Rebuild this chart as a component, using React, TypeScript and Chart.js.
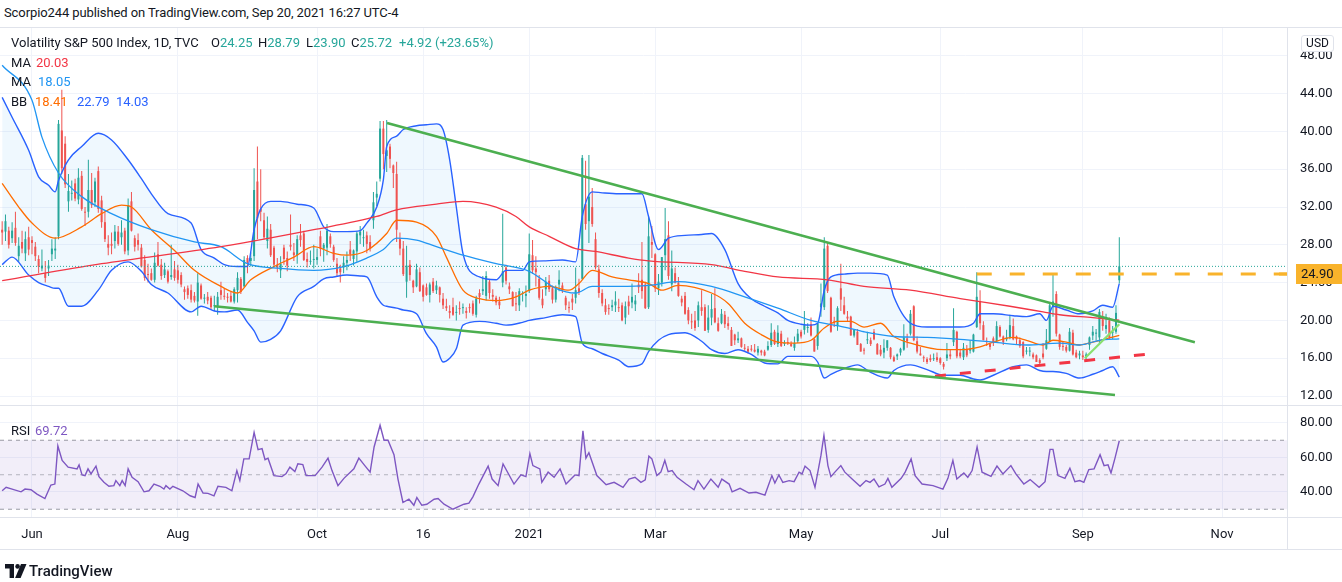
import React, { useEffect, useRef } from 'react';
import { Chart, registerables } from 'chart.js';

Chart.register(...registerables);

const FONT = "Roboto, 'Liberation Sans', sans-serif";

// ---------- daily candles (May 18 2020 .. Sep 20 2021), bar index = position ----------
const OPEN = [
  29.6,29.4,29.5,28.7,29.8,26.8,28.3,27.1,28.8,
  28.5,27.8,26.5,25.5,25.0,25.5,27.0,27.4,28.9,40.1,38.7,32.6,33.4,34.5,32.8,35.3,31.5,31.5,33.8,32.5,35.8,32.7,
  30.4,28.1,28.1,28.4,29.4,28.8,29.5,27.4,32.6,28.7,28.5,27.7,26.4,24.9,25.0,24.3,27.0,25.9,24.8,25.2,24.6,25.4,
  25.3,24.8,23.3,23.4,23.2,22.6,22.0,23.7,22.3,22.5,22.4,21.5,21.5,23.2,22.6,22.5,22.6,22.0,23.2,24.4,23.6,
  26.6,26.3,26.8,34.7,31.8,30.6,28.4,29.6,27.7,25.9,25.3,27.7,26.6,28.0,27.2,26.9,29.0,29.2,26.5,26.2,26.4,
  26.4,28.9,27.6,27.7,28.9,27.8,26.0,25.5,25.6,26.1,27.5,26.5,27.3,29.0,28.7,29.0,28.3,30.6,33.0,35.0,40.3,37.4,
  38.4,36.4,35.5,28.6,27.6,24.1,25.9,24.2,23.6,25.1,23.7,23.5,22.7,24.1,23.2,23.5,22.3,21.5,21.0,21.4,
  20.8,21.3,21.3,21.0,21.4,21.8,20.6,22.9,23.1,22.6,24.1,22.7,22.4,22.0,24.0,25.6,23.6,23.0,21.8,21.6,22.8,22.6,
  23.1,26.9,25.5,24.4,22.3,23.3,24.2,23.4,22.2,23.8,23.7,22.4,21.4,22.3,22.4,23.4,24.4,32.3,30.5,
  32.0,28.6,25.4,22.9,21.6,21.3,21.4,21.6,21.4,21.6,20.3,22.0,21.9,21.7,23.8,24.3,23.8,21.4,28.3,
  27.0,23.4,24.0,26.9,29.0,23.8,25.0,24.0,22.3,22.6,21.1,19.9,20.0,20.0,21.4,21.4,19.0,20.3,21.3,19.7,19.7,20.6,19.7,
  19.0,18.5,17.9,18.1,17.1,17.0,17.0,16.9,16.6,16.8,16.7,16.9,17.4,18.8,17.5,18.6,17.5,17.7,17.5,17.1,17.8,
  18.8,19.0,19.2,19.6,18.0,17.3,21.4,21.4,27.9,22.4,19.9,19.4,23.4,21.6,20.4,20.4,18.4,18.8,17.5,16.9,
  17.9,17.9,18.8,17.5,16.9,16.6,17.1,17.1,16.1,16.2,16.6,16.9,18.1,18.6,21.5,17.8,16.5,16.1,15.9,16.0,15.9,16.1,
  16.0,15.4,16.0,16.4,17.7,18.8,16.6,16.1,16.9,16.8,16.7,19.3,22.0,19.5,17.8,17.5,18.1,17.8,19.3,18.3,18.0,
  18.2,19.4,18.3,17.9,17.7,16.7,16.7,16.4,16.3,15.8,16.5,17.0,17.8,21.4,22.8,18.5,17.3,17.2,16.8,18.7,16.6,16.3,
  16.3,16.2,17.4,18.4,18.6,18.2,20.1,19.1,20.0,18.7,18.8,24.25,
];
const HIGH = [
  30.5,31.2,29.9,30.4,31.5,28.8,29.5,29.4,29.9,
  28.9,28.3,26.9,27.5,26.3,26.4,28.6,28.8,41.2,44.4,39.5,35.5,34.8,35.0,36.1,35.8,32.0,37.0,35.6,35.1,36.3,33.2,
  31.5,29.0,29.3,30.1,30.0,30.6,29.8,32.9,33.6,29.0,29.2,28.1,26.9,26.0,25.5,27.2,28.3,26.5,26.1,25.4,28.0,26.3,
  25.9,25.1,23.6,23.7,23.8,23.0,25.0,23.9,22.8,23.0,22.6,22.6,23.0,24.1,23.4,22.9,23.0,23.5,25.1,24.6,26.8,
  26.9,27.2,36.1,38.4,36.0,31.4,31.0,30.2,27.9,26.6,26.8,28.0,27.3,31.2,28.2,29.0,30.2,29.5,27.2,27.4,28.0,
  27.6,29.5,28.2,30.2,29.2,28.0,26.6,25.9,26.8,27.3,28.4,27.5,29.4,30.0,29.6,29.4,29.0,33.6,34.7,41.1,41.1,41.2,
  38.7,36.5,36.8,29.3,28.4,27.9,26.4,24.3,26.0,25.6,23.8,23.9,24.0,24.5,24.2,23.6,22.9,22.3,21.6,22.4,
  21.6,22.0,21.8,21.4,21.8,22.1,22.6,23.3,24.7,25.2,24.3,23.3,22.6,22.5,31.3,25.9,24.0,23.1,23.0,23.4,23.1,23.7,
  29.2,28.5,26.8,24.8,23.3,24.6,24.8,23.7,23.7,25.3,24.0,22.6,22.0,22.8,25.6,24.4,37.5,36.9,37.5,
  34.0,29.3,25.9,23.3,22.3,21.7,22.2,23.1,22.3,21.9,22.0,22.6,23.9,22.7,25.0,28.3,24.1,31.0,30.0,
  27.1,24.9,26.7,31.9,30.5,27.4,25.6,24.6,22.6,23.0,21.4,20.7,21.0,22.0,23.2,21.7,21.6,22.8,23.4,20.3,21.2,21.0,20.4,
  19.3,18.6,18.8,18.2,17.5,17.3,17.4,17.5,17.3,16.9,16.9,17.8,19.7,19.0,19.5,18.9,17.9,18.2,17.8,18.3,19.1,
  19.0,21.0,19.7,20.3,18.1,19.7,23.9,28.8,28.2,22.5,20.4,21.5,26.0,22.5,21.0,20.5,19.1,19.1,17.6,17.1,
  18.8,18.2,19.1,17.6,17.4,18.0,17.9,17.2,16.3,16.5,17.1,19.6,18.6,21.1,21.6,18.3,17.2,16.3,16.1,16.4,16.5,16.6,
  16.1,15.6,17.6,16.9,21.3,18.9,17.0,17.6,17.4,17.9,18.6,25.1,23.2,19.9,18.2,17.6,18.3,19.9,19.5,18.4,19.0,
  20.6,20.2,18.4,18.2,17.8,17.2,17.2,16.6,16.4,16.0,17.6,19.1,21.9,25.0,23.1,18.6,17.8,17.4,19.2,19.0,16.9,16.8,
  16.8,16.6,18.3,19.4,19.1,21.2,21.0,20.7,20.3,19.4,21.6,28.79,
];
const LOW = [
  28.0,28.4,27.6,28.2,27.9,26.2,27.1,26.3,26.9,
  27.0,26.3,25.0,25.2,24.0,24.7,26.3,26.5,28.6,35.5,34.0,31.5,32.7,32.6,32.3,31.6,30.0,30.9,31.9,32.0,31.4,29.8,
  28.3,26.9,27.0,27.6,27.9,28.0,27.0,26.9,29.4,27.3,27.4,25.6,24.2,24.0,24.2,24.0,25.7,24.3,24.5,23.9,24.3,24.2,
  23.9,23.5,22.2,22.3,21.9,21.9,20.5,22.2,21.8,21.7,21.1,21.0,20.6,22.2,22.2,21.9,21.9,21.8,21.9,22.8,23.5,
  25.0,25.7,26.3,28.6,30.5,28.6,27.6,26.7,25.6,25.1,24.5,25.9,25.2,27.4,26.3,26.0,27.8,26.3,25.6,25.9,25.5,
  25.9,26.8,26.2,26.9,27.7,26.2,24.6,24.0,25.0,25.3,26.3,25.8,26.2,28.1,27.8,27.1,27.3,29.7,32.1,34.7,36.0,35.7,
  36.1,34.0,28.3,26.9,24.7,22.4,24.2,22.9,23.5,23.0,22.0,22.6,21.9,22.9,22.8,21.9,21.2,21.0,20.2,20.5,
  20.0,20.6,20.7,20.2,20.8,20.5,20.3,21.8,22.7,22.1,22.3,22.0,21.6,21.2,23.5,23.8,22.8,21.5,21.0,21.0,22.0,21.4,
  22.9,24.9,23.6,22.2,21.3,22.6,23.0,21.8,21.9,23.1,22.9,21.1,20.8,21.1,21.8,22.7,24.3,29.6,28.2,
  29.9,25.4,22.4,21.5,20.6,20.6,21.0,20.9,20.9,19.9,19.6,20.6,21.3,21.0,22.9,22.3,21.2,21.2,26.6,
  23.0,22.7,23.6,25.3,24.3,23.1,23.9,22.5,21.5,20.6,19.6,19.1,18.9,19.3,20.5,18.9,18.7,19.5,19.7,18.8,19.6,19.2,19.0,
  17.3,17.4,17.6,17.1,16.8,16.5,16.7,16.6,16.3,16.3,16.2,16.8,17.2,17.4,17.2,17.2,17.3,17.4,17.2,16.8,17.6,
  18.1,18.5,18.7,18.3,16.7,16.9,20.4,21.1,22.9,18.7,19.3,18.9,21.0,20.6,19.9,18.4,18.2,17.4,16.7,16.4,
  17.5,17.3,17.9,16.4,16.2,16.0,16.8,15.9,15.6,15.8,16.3,16.8,17.1,18.4,17.8,16.5,16.3,15.6,15.4,15.6,15.7,15.6,
  15.3,14.8,15.7,15.9,17.3,16.0,16.0,15.8,16.1,16.5,16.6,19.2,19.0,17.9,17.3,16.9,17.3,17.7,18.2,17.4,17.8,
  18.0,17.9,17.4,17.1,16.0,16.4,16.2,15.9,15.6,15.3,15.9,16.9,17.7,20.4,18.3,16.9,16.8,16.6,16.7,16.3,16.0,15.9,
  15.8,15.9,16.9,17.9,17.9,17.6,18.9,18.6,18.0,18.0,18.6,23.90,
];
const CLOSE = [
  29.3,30.5,28.0,29.5,28.2,27.9,27.6,28.6,27.5,
  28.2,26.8,25.7,25.8,24.5,25.8,27.6,27.6,40.8,36.1,34.4,33.7,33.5,32.9,35.1,31.8,31.4,33.8,32.2,34.7,31.8,30.4,
  28.6,27.7,27.9,29.4,28.1,29.3,27.3,32.2,29.5,27.8,28.0,25.7,24.5,24.8,24.3,26.1,25.8,24.7,25.4,24.1,24.8,24.5,
  24.3,23.8,23.0,22.7,22.2,22.1,24.0,22.3,22.3,22.1,21.4,21.5,22.5,22.7,22.5,22.4,22.0,23.3,24.5,23.0,26.4,
  26.1,26.6,33.8,30.8,31.5,28.8,29.7,26.9,25.9,25.6,26.0,26.5,25.8,27.8,26.9,28.6,28.5,26.4,26.2,26.3,26.4,
  26.7,27.6,28.0,29.5,28.1,26.4,25.0,25.1,26.1,26.4,27.0,27.4,29.2,29.4,28.7,28.1,27.6,32.5,33.4,40.3,37.6,38.0,
  37.1,35.6,29.6,27.6,24.9,25.8,24.8,23.5,25.4,23.1,22.5,22.7,23.8,23.1,23.7,22.7,21.6,21.3,20.8,20.6,
  20.8,21.2,21.3,20.8,21.3,20.7,22.3,22.5,23.3,24.7,22.9,22.5,21.9,21.6,25.2,24.2,23.3,21.5,21.7,23.1,22.8,22.8,
  27.0,25.3,25.1,22.4,21.6,24.1,23.3,22.2,23.3,24.3,23.2,21.6,21.3,21.9,23.2,23.0,37.2,30.2,33.1,
  30.2,25.6,22.9,21.8,20.9,21.2,21.6,22.0,21.3,20.0,21.5,21.5,22.5,22.1,23.5,23.1,21.3,28.9,28.0,
  23.4,24.1,26.7,28.6,24.7,25.5,24.0,22.6,21.9,20.7,20.0,19.8,19.2,21.6,21.0,18.9,20.3,21.2,19.8,18.9,20.7,19.6,19.4,
  17.3,17.9,18.1,17.2,17.0,16.7,16.9,16.7,17.0,16.6,16.3,17.3,18.7,17.5,18.7,17.3,17.6,17.6,17.3,17.6,18.6,
  18.3,19.5,19.2,18.4,16.7,19.7,21.8,27.6,23.1,18.8,19.7,21.3,22.2,20.7,20.2,18.4,19.0,17.4,16.7,16.8,
  17.9,17.5,18.0,16.4,16.4,17.1,17.9,16.1,15.7,16.4,17.0,18.2,17.8,20.7,17.9,16.7,16.3,16.0,15.6,15.8,16.0,15.8,
  15.5,15.1,16.4,16.2,19.0,16.2,16.2,17.1,16.3,17.0,18.5,22.5,19.7,17.9,17.7,17.2,17.6,19.4,18.3,17.7,18.2,
  19.5,18.0,18.0,17.3,16.2,16.7,16.8,16.1,15.6,15.5,16.1,17.9,21.6,22.0,18.6,17.2,17.2,16.8,18.8,16.4,16.1,16.5,
  16.1,16.4,18.2,18.8,18.7,20.9,19.4,19.5,18.2,18.7,20.8,25.72,
];

// ---------- indicator lines (bar index, value) ----------
const MA200_X = [0,30,66,94,113,119,131,139,149,155,159,165,173,179,189,195,214,224,234,249,260,274,289,304,314,319,329,337];
const MA200_Y = [24.2,26.0,27.8,29.6,31.0,31.7,32.3,32.6,32.0,31.0,29.9,28.9,27.6,27.3,26.6,26.3,25.9,25.2,24.6,24.3,23.6,23.2,22.3,21.5,20.9,20.6,20.3,20.03];
const MA50_X = [0,9,12,17,24,33,45,58,66,74,84,94,103,110,115,119,125,131,139,149,159,167,173,178,186,195,204,214,224,234,244,254,260,269,279,289,299,309,319,325,331,337];
const MA50_Y = [47.0,43.3,39.4,35.6,33.1,31.3,29.6,28.3,27.8,26.0,25.5,25.3,25.7,26.6,27.5,28.7,28.5,27.8,26.9,26.0,25.2,23.4,22.9,23.6,23.6,23.7,24.1,23.6,22.5,21.3,20.0,19.3,18.8,18.3,18.2,18.0,17.7,17.4,17.6,17.4,17.9,18.05];
const BASIS_X = [0,5,9,16,24,30,36,39,45,52,58,66,71,75,82,88,94,100,104,110,116,119,125,131,134,139,144,149,155,159,165,171,174,178,184,189,195,199,204,214,219,224,229,234,239,244,248,252,256,260,265,269,274,284,289,295,299,305,309,314,317,321,325,329,337];
const BASIS_Y = [34.5,32.0,30.3,28.7,29.9,31.3,32.2,32.0,29.6,27.4,25.3,23.6,22.9,24.3,25.7,26.7,27.8,27.1,26.9,27.4,29.2,30.6,30.4,28.9,26.7,23.2,22.3,22.1,22.5,23.2,23.6,23.2,23.9,25.3,24.6,24.3,23.9,23.2,23.7,22.9,21.8,19.7,18.5,17.7,17.6,17.9,19.2,19.9,19.9,19.3,19.7,18.3,17.6,16.9,16.9,17.2,17.7,18.2,17.9,17.4,17.9,17.7,17.4,17.7,18.41];
const BB_X = [0,3,8,11,14,16,17,20,24,29,33,38,42,45,50,57,60,64,67,71,74,76,78,81,84,89,94,97,100,104,108,110,113,115,116,119,121,125,128,131,133,135,137,139,144,149,152,157,159,164,169,173,175,178,181,186,189,193,195,198,201,206,211,214,218,222,226,230,234,237,241,244,246,248,250,254,258,262,267,269,274,279,284,289,293,295,299,305,309,313,315,317,321,325,329,332,335,337];
const BB_UPPER = [43.6,41.5,38.0,35.2,34.3,33.6,34.8,37.0,38.4,39.8,39.1,37.0,35.0,33.4,31.3,30.3,27.5,26.6,25.9,25.7,25.7,29.6,31.8,32.6,32.6,32.3,31.9,29.9,29.4,29.4,29.5,30.3,32.0,34.9,38.4,39.5,40.2,40.6,40.7,40.8,40.2,37.0,32.0,27.1,24.6,24.3,25.3,25.3,26.2,26.3,26.4,26.2,31.0,33.6,33.5,33.4,33.4,33.4,31.0,27.5,28.7,29.0,29.1,29.2,27.5,23.9,22.3,21.5,20.8,20.0,19.6,19.5,19.7,23.2,24.6,24.9,25.0,25.0,24.8,22.5,19.7,19.3,19.3,19.3,19.7,20.7,20.7,20.5,20.4,20.7,20.0,21.5,21.1,20.7,21.0,21.6,21.4,23.9];
const BB_LOWER = [25.9,26.7,24.8,24.0,23.6,23.4,23.4,21.5,21.5,23.2,25.3,26.2,25.2,23.8,22.9,20.9,21.5,21.0,20.9,21.1,19.8,18.9,17.7,18.0,18.9,22.5,23.6,24.4,24.6,24.8,24.7,24.6,22.5,21.6,21.5,21.3,21.1,20.7,18.6,17.2,15.6,16.0,17.0,19.5,19.9,19.7,19.5,19.8,20.0,20.3,20.6,20.4,17.6,17.0,16.5,15.8,15.1,15.4,16.7,17.9,18.5,18.7,17.8,16.9,16.5,16.9,16.4,15.5,15.4,16.2,16.2,16.2,15.6,13.9,14.3,14.9,15.3,14.5,13.9,14.7,15.3,14.8,14.2,14.2,13.8,13.7,14.2,15.1,15.3,14.7,14.6,14.6,14.4,13.9,14.3,14.7,15.1,14.0];
const RSI_X = [0,1.2,3,5.7,6.9,8.7,10.5,12.9,14.7,15.9,16.8,18.1,19.9,22.6,23.2,24.1,25,25.9,26.8,28.3,29.2,30.7,32.2,33.7,34.3,35.5,36.2,37.1,38,39.2,41,42.8,44.3,45.8,47.6,48.8,49.4,50.6,51.5,54.5,56.7,58.2,59.1,60.6,62.1,63.9,65.1,67.5,69.3,70.8,71.7,72.9,74.5,76,77.2,78.4,79.3,80.2,82,84.4,85.6,86.8,88.3,89.2,90.7,91.7,94.4,96.5,98.3,99.5,101.3,103.1,106.1,107.6,109.4,111,112.2,114,115.2,116.4,118.2,119.4,120.9,122.7,124.2,125.1,126.6,128.1,130.3,131.5,133.3,136,137.8,139.3,140.8,142,143.8,146.6,147.8,149.6,151.1,154.4,156.5,158,159.2,160.1,162.2,162.8,164.7,166.5,168.3,170.1,172.8,174,175.2,176.1,177,179.4,182.2,184.6,187.3,189.1,190.9,192.7,194,195.1,196,197.5,198.7,199.9,200.9,202.1,203.6,206.3,208.7,209.9,211.7,213.8,216,217.1,219.3,220.2,222.6,225.3,227.4,230.1,232.2,233.1,234.3,235.5,237.4,238.9,240.4,241.3,242.2,243.7,245.2,247,247.9,249.1,250,251.2,253,254.2,256.4,258.8,260.6,261.8,263,264.5,266.3,267.2,268.4,271.2,272.4,274.2,275.4,277.5,280.8,283.8,285.3,286.8,288,290.1,291.3,292.6,294.1,295.6,298.3,300.1,301.9,304.3,305.8,308.2,310.1,312.8,314.6,316.1,317,318.5,320.6,322.1,323.6,325.1,326.3,327.8,329.4,331.2,332.4,333.6,334.5,335.7,337];
const RSI_Y = [40.7,42.7,41.7,40.1,41.7,41.3,38.8,36.2,44,44.6,66.7,58.3,54.4,53.4,55.7,49.9,49.5,53.4,50.5,55,48.9,45.6,43.3,43.7,46.6,43.7,46.6,43.7,53.4,48.5,46,40.1,40.7,44.6,43.3,41.7,43.7,41.7,43.3,40.7,37.8,36.8,44.6,39.4,39.2,37.8,43.3,42.7,40.7,52.4,46.6,59.2,59.2,74.5,64.5,65.1,58.7,59.6,49.5,48.9,50.5,54.4,51.8,56.3,55.9,49.5,49.5,54.4,59.6,52.4,43.7,47.9,53.4,59.6,55.3,51.5,66.1,78.7,70,70,61.6,47.5,33.9,35.8,32.3,36.8,32.3,32.9,35.8,36.2,32.9,30,31.6,32.9,33.5,37.2,44.6,55,47.5,43.7,56.3,44.6,49.9,48.9,62.2,55.3,53.4,45.6,51.5,48.5,53.4,44.6,49.9,49.5,75.4,59.6,62.8,49.5,44.2,45.6,42.7,47.5,48.5,45.6,47,60.8,59.2,49.5,51.5,58.3,51.8,52.4,48.5,44.6,41.3,46.6,41.7,47.5,42.7,47.5,44.6,40.1,42.1,39.4,39.8,38.2,49.5,45.2,49.9,45.6,46.6,46,51.5,50.5,55,52.4,42.7,61.2,72.9,55.3,48.9,51.5,55.3,51.5,47.5,43.3,46.6,45.6,47.5,43,44.6,47.9,42.7,47.9,51.5,59.2,49.5,44.6,43.7,41.7,47.9,58.3,47.5,51,48.5,52.4,66.1,51.5,49.1,55,50.5,55.3,50.5,44.6,47.2,42.7,46,64.7,64.7,49.5,47.9,53.8,46,46.6,45.6,53,53.4,61.6,55.3,55.7,51,59.6,69.72];

// ---------- drawings on the chart ----------
const TREND_UP_X = [116.1, 359.8];
const TREND_UP_Y = [40.9, 17.7];
const TREND_LOW_X = [64, 335.7];
const TREND_LOW_Y = [21.5, 12.1];
const RISE_X = [326.6, 337];
const RISE_Y = [16.0, 19.6];
const SUPPORT_X = [281.4, 344.7];
const SUPPORT_Y = [14.1, 16.4];
const RESIST_FROM = 294;
const RESIST_LEVEL = 24.9;
const LAST_CLOSE = 25.72;

// ---------- axes ----------
const MONTH_TICKS = [9, 53, 95, 127, 159, 197, 241, 283, 326, 368];
const MONTH_LABELS = ['Jun', 'Aug', 'Oct', '16', '2021', 'Mar', 'May', 'Jul', 'Sep', 'Nov'];
const PRICE_TICKS = [12, 16, 20, 24, 28, 32, 36, 40, 44, 48];
const RSI_TICKS = [40, 60, 80];
const RSI_LEVELS = [70, 50, 30];
const X_MIN = -0.652;
const X_MAX = 387.59;
const P_MIN = 11.05;
const P_MAX = 51.05;
const R_MIN = 25.5;
const R_MAX = 90.43;

const UP = '#26a69a';
const DOWN = '#ef5350';
const GREEN = '#4caf50';
const GOLD = '#f9b32b';
const GRID = '#f0f3fa';
const TEXT = '#131722';
const FRAME = '#e0e3eb';

const pts = (xs: number[], ys: number[]) => xs.map((x, i) => ({ x, y: ys[i] }));
const hline = (v: number, from = X_MIN) => [{ x: from, y: v }, { x: X_MAX, y: v }];

const line = (data: any, color: string, width: number, order: number, extra: any = {}) => ({
  type: 'line', data, borderColor: color, borderWidth: width, pointRadius: 0, fill: false, order, ...extra,
});
const mono = { cubicInterpolationMode: 'monotone' };

const xAxisBase = (showLabels: boolean, height: number) => ({
  type: 'linear', min: X_MIN, max: X_MAX, offset: false,
  grid: { color: GRID, drawTicks: false, offset: false },
  border: { display: false },
  ticks: {
    display: showLabels, autoSkip: false, maxRotation: 0, minRotation: 0, padding: 10,
    color: TEXT, font: { family: FONT, size: 13 },
    callback: (_v: any, i: number) => MONTH_LABELS[i] ?? '',
  },
  afterBuildTicks: (s: any) => { s.ticks = MONTH_TICKS.map((v) => ({ value: v })); },
  afterFit: (s: any) => { s.height = height; s.paddingLeft = 0; s.paddingRight = 0; },
});

const yAxisBase = (min: number, max: number, ticks: number[]) => ({
  position: 'right', min, max,
  grid: { color: GRID, drawTicks: false },
  border: { display: false },
  ticks: { padding: 13, color: TEXT, font: { family: FONT, size: 13 }, callback: (v: any) => Number(v).toFixed(2) },
  afterBuildTicks: (s: any) => { s.ticks = ticks.map((v) => ({ value: v })); },
  afterFit: (s: any) => { s.width = 55; s.paddingTop = 0; s.paddingBottom = 0; },
});

const levelLabel = {
  id: 'levelLabel',
  afterDraw(chart: any) {
    const { ctx, chartArea, scales } = chart;
    const py = scales.y.getPixelForValue(RESIST_LEVEL);
    ctx.save();
    ctx.fillStyle = GOLD;
    ctx.fillRect(chartArea.right + 9, Math.round(py) - 10, chart.width - chartArea.right - 9, 20);
    ctx.fillRect(chartArea.right - 8, Math.round(py) - 1.5, 9, 3);
    ctx.fillStyle = TEXT;
    ctx.font = `13px ${FONT}`;
    ctx.textBaseline = 'middle';
    ctx.fillText(RESIST_LEVEL.toFixed(2), chartArea.right + 14, Math.round(py) + 0.5);
    ctx.restore();
  },
};

function mainConfig(): any {
  const idx = CLOSE.map((_, i) => i);
  const colors = idx.map((i) => (CLOSE[i] >= OPEN[i] ? UP : DOWN));
  const FILL = 'rgba(33,150,243,0.07)';
  return {
    type: 'bar',
    data: {
      datasets: [
        line(pts(TREND_UP_X, TREND_UP_Y), GREEN, 2.6, 0),
        line(pts(TREND_LOW_X, TREND_LOW_Y), GREEN, 2.6, 0),
        line(pts(RISE_X, RISE_Y), '#89e06f', 2.2, 0),
        line(pts(SUPPORT_X, SUPPORT_Y), '#f23645', 3, 0, { borderDash: [11, 14] }),
        line(hline(RESIST_LEVEL, RESIST_FROM), GOLD, 3, 0, { borderDash: [15, 18] }),
        line(hline(LAST_CLOSE), UP, 1, 1, { borderDash: [1, 2] }),
        line(pts(MA200_X, MA200_Y), '#f23645', 1.3, 2, mono),
        line(pts(MA50_X, MA50_Y), '#2196f3', 1.3, 2, mono),
        line(pts(BASIS_X, BASIS_Y), '#ff6d00', 1.3, 2, mono),
        line(pts(BB_X, BB_UPPER), '#2962ff', 1.4, 2, mono),
        line(pts(BB_X, BB_LOWER), '#2962ff', 1.4, 2, mono),
        line(pts(BB_X, BB_LOWER), 'rgba(0,0,0,0)', 0, 10, { ...mono, fill: { target: 9, above: FILL, below: FILL } }),
        {
          type: 'bar', data: idx.map((i) => ({ x: i, y: [OPEN[i], CLOSE[i]] })), backgroundColor: colors,
          borderWidth: 0, barThickness: 2, maxBarThickness: 2, grouped: false, minBarLength: 1, inflateAmount: 0, order: 4,
        },
        {
          type: 'bar', data: idx.map((i) => ({ x: i, y: [LOW[i], HIGH[i]] })), backgroundColor: colors,
          borderWidth: 0, barThickness: 1, maxBarThickness: 1, grouped: false, inflateAmount: 0, order: 5,
        },
      ],
    },
    options: {
      animation: false, responsive: false, devicePixelRatio: 1, events: [],
      layout: { padding: 0 },
      plugins: { legend: { display: false }, tooltip: { enabled: false } },
      scales: { x: xAxisBase(false, 0), y: yAxisBase(P_MIN, P_MAX, PRICE_TICKS) },
    },
    plugins: [levelLabel],
  };
}

function rsiConfig(): any {
  const dash = { borderDash: [4, 4] };
  const LVL = 'rgba(120,123,134,0.75)';
  return {
    type: 'line',
    data: {
      datasets: [
        line(pts(RSI_X, RSI_Y), '#7e57c2', 1.4, 0),
        line(hline(RSI_LEVELS[1]), 'rgba(120,123,134,0.5)', 1, 1, dash),
        line(hline(RSI_LEVELS[0]), LVL, 1, 3, { ...dash, fill: { target: 3, above: 'rgba(126,87,194,0.1)', below: 'rgba(126,87,194,0.1)' } }),
        line(hline(RSI_LEVELS[2]), LVL, 1, 2, dash),
      ],
    },
    options: {
      animation: false, responsive: false, devicePixelRatio: 1, events: [],
      layout: { padding: 0 },
      plugins: { legend: { display: false }, tooltip: { enabled: false } },
      scales: { x: xAxisBase(true, 32), y: yAxisBase(R_MIN, R_MAX, RSI_TICKS) },
    },
  };
}

const abs = (left: number, top: number, extra: any = {}) => ({ position: 'absolute' as const, left, top, ...extra });

function Txt({ x, cy, size = 13, children, color = TEXT, weight = 400, ls = 0 }: any) {
  return (
    <div style={abs(x, cy - 8, { fontSize: size, lineHeight: '16px', color, whiteSpace: 'nowrap', fontFamily: FONT, fontWeight: weight, letterSpacing: ls })}>
      {children}
    </div>
  );
}

function HLine({ y }: { y: number }) {
  return <div style={abs(0, y, { width: 1342, height: 1, background: FRAME })} />;
}

export default function App() {
  const mainRef = useRef<HTMLCanvasElement>(null);
  const rsiRef = useRef<HTMLCanvasElement>(null);

  useEffect(() => {
    const main = new Chart(mainRef.current as HTMLCanvasElement, mainConfig());
    const rsi = new Chart(rsiRef.current as HTMLCanvasElement, rsiConfig());
    return () => { main.destroy(); rsi.destroy(); };
  }, []);

  const n = CLOSE.length;
  const chg = CLOSE[n - 1] - CLOSE[n - 2];
  const pct = (chg / CLOSE[n - 2]) * 100;
  const teal = UP;

  return (
    <div style={abs(0, 0, { width: 1342, height: 582, background: '#fff', overflow: 'hidden', fontFamily: FONT })}>
      <Txt x={4} cy={13} size={13} ls={-0.1}>Scorpio244 published on TradingView.com, Sep 20, 2021 16:27 UTC-4</Txt>

      <canvas ref={mainRef} width={1342} height={378} style={abs(0, 27, { width: 1342, height: 378 })} />
      <canvas ref={rsiRef} width={1342} height={144} style={abs(0, 405, { width: 1342, height: 144 })} />

      <HLine y={27} />
      <HLine y={405} />
      <HLine y={517} />
      <HLine y={549} />
      <div style={abs(1287, 27, { width: 1, height: 523, background: FRAME })} />

      <Txt x={11} cy={43}>Volatility S&amp;P 500 Index, 1D, TVC</Txt>
      <Txt x={211} cy={43}>O<span style={{ color: teal }}>{OPEN[n - 1].toFixed(2)}</span></Txt>
      <Txt x={258} cy={43}>H<span style={{ color: teal }}>{HIGH[n - 1].toFixed(2)}</span></Txt>
      <Txt x={306} cy={43}>L<span style={{ color: teal }}>{LOW[n - 1].toFixed(2)}</span></Txt>
      <Txt x={351} cy={43}>C<span style={{ color: teal }}>{CLOSE[n - 1].toFixed(2)}</span></Txt>
      <Txt x={399} cy={43} color={teal}>{`+${chg.toFixed(2)} (+${pct.toFixed(2)}%)`}</Txt>

      <Txt x={11} cy={63}>MA</Txt>
      <Txt x={36} cy={63} color="#f23645">20.03</Txt>
      <Txt x={11} cy={82}>MA</Txt>
      <Txt x={38} cy={82} color="#2196f3">18.05</Txt>
      <Txt x={11} cy={102}>BB</Txt>
      <Txt x={35} cy={102} color="#ff6d00">18.41</Txt>
      <Txt x={77} cy={102} color="#2962ff">22.79</Txt>
      <Txt x={116} cy={102} color="#2962ff">14.03</Txt>

      <Txt x={11} cy={431}>RSI</Txt>
      <Txt x={35} cy={431} color="#7e57c2">69.72</Txt>

      <div style={abs(1301, 35, { width: 31, height: 15, border: `1px solid ${FRAME}`, borderRadius: 3, background: '#fff', fontSize: 12, lineHeight: '15px', textAlign: 'center', color: TEXT })}>USD</div>

      <svg style={abs(5, 564)} width={22} height={14} viewBox="0 0 22 14">
        <path d="M0 0H9V14H4.6V4.4H0Z" fill={TEXT} />
        <circle cx={12.6} cy={2.4} r={2.3} fill={TEXT} />
        <path d="M16 0H21.5L15.6 14H10.1Z" fill={TEXT} />
      </svg>
      <Txt x={29} cy={571} size={15} weight={500}>TradingView</Txt>
    </div>
  );
}
